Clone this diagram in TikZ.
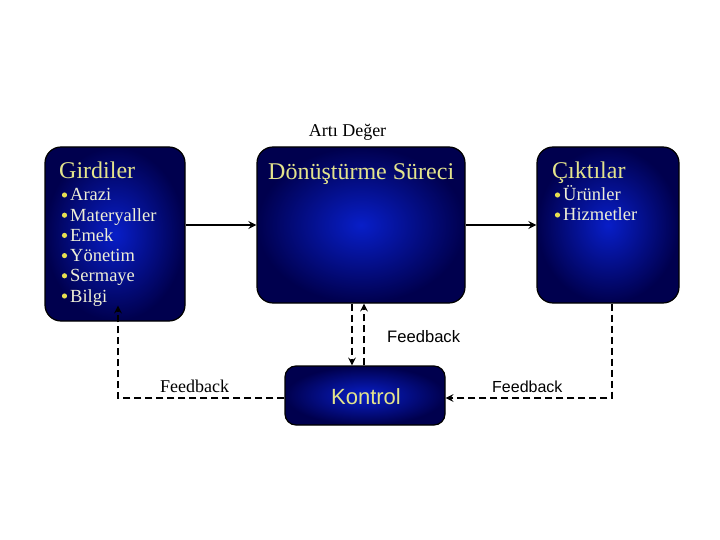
\documentclass[tikz,border=0pt]{standalone}
\usepackage{fontspec}
\setmainfont{Liberation Serif}
\setsansfont{Liberation Sans}
\usepackage{tikz}

\definecolor{boxinner}{RGB}{8,30,200}
\definecolor{boxouter}{RGB}{0,0,78}
\definecolor{titleyellow}{RGB}{228,228,140}
\definecolor{itemwhite}{RGB}{238,238,214}
\definecolor{dotyellow}{RGB}{230,222,80}

\tikzset{
	blockbox/.style={draw=black, line width=1.2pt, rounded corners=16pt,
		inner color=boxinner, outer color=boxouter},
	titletext/.style={anchor=base west, inner sep=0pt, text=titleyellow,
		font=\fontsize{24}{28}\selectfont},
	itemtext/.style={anchor=base west, inner sep=0pt, text=itemwhite,
		font=\fontsize{18.5}{22}\selectfont},
	fbline/.style={line width=2.4pt, dash pattern=on 7pt off 4pt},
	flowline/.style={line width=2.5pt},
}

\begin{document}
\begin{tikzpicture}[x=1pt, y=-1pt, >=stealth]
	\useasboundingbox (0,0) rectangle (720,540);

	% boxes
	\node[blockbox, minimum width=140pt, minimum height=174pt] (girdiler) at (115,234) {};
	\node[blockbox, minimum width=208pt, minimum height=156pt] (surec) at (361,225) {};
	\node[blockbox, minimum width=142pt, minimum height=156pt] (ciktilar) at (608,225) {};
	\node[blockbox, minimum width=160pt, minimum height=59pt, rounded corners=11pt] (kontrol) at (365,395.5) {};

	% box texts
	\node[titletext] (girdilerT) at (59,179) {Girdiler};
	\node[itemtext] (arazi) at (70,201) {Arazi};
	\node[itemtext] (materyal) at (70,221.2) {Materyaller};
	\node[itemtext] (emek) at (70,241.4) {Emek};
	\node[itemtext] (yonetim) at (70,261.6) {Yönetim};
	\node[itemtext] (sermaye) at (70,281.8) {Sermaye};
	\node[itemtext] (bilgi) at (70,302) {Bilgi};
	\foreach \y in {201,221.2,241.4,261.6,281.8,302}
		\fill[dotyellow] (64.5,\y-6) circle (2.6pt);

	\node[titletext] (surecT) at (268,180) {Dönüştürme Süreci};

	\node[titletext] (ciktilarT) at (552,179) {Çıktılar};
	\node[itemtext] (urunler) at (563,201) {Ürünler};
	\node[itemtext] (hizmet) at (563,221) {Hizmetler};
	\foreach \y in {201,221}
		\fill[dotyellow] (557.5,\y-6) circle (2.6pt);

	\node[anchor=base, inner sep=0pt, text=titleyellow, font=\sffamily\fontsize{22}{26}\selectfont] (kontrolT) at (366,404) {Kontrol};

	% labels
	\node[anchor=base, inner sep=0pt, font=\fontsize{18}{22}\selectfont] (arti) at (347.5,137) {Artı Değer};
	\node[anchor=base west, inner sep=0pt, font=\sffamily\fontsize{16.6}{20}\selectfont] (fbmid) at (387,342) {Feedback};
	\node[anchor=base west, inner sep=0pt, font=\fontsize{18}{22}\selectfont] (fbleftT) at (160,392) {Feedback};
	\node[anchor=base west, inner sep=0pt, font=\sffamily\fontsize{16}{20}\selectfont] (fbrightT) at (492,392) {Feedback};

	% connectors
	\coordinate (fbleft) at (118,398);
	\coordinate (fbright) at (612,398);
	\draw[flowline,->] (surec.west -| girdiler.east) -- (surec.west);
	\draw[flowline,->] (surec.east) -- (ciktilar.west);
	\draw[fbline,->] ([xshift=-9pt]surec.south) -- ([xshift=-9pt]surec.south |- kontrol.north);
	\draw[fbline,->] ([xshift=3pt]surec.south |- kontrol.north) -- ([xshift=3pt]surec.south);
	\draw[fbline,->] (kontrol.west |- fbleft) -- (fbleft) -- ([yshift=16pt]fbleft |- girdiler.south);
	\draw[fbline,->] (fbright |- ciktilar.south) -- (fbright) -- (kontrol.east |- fbright);
\end{tikzpicture}
\end{document}
